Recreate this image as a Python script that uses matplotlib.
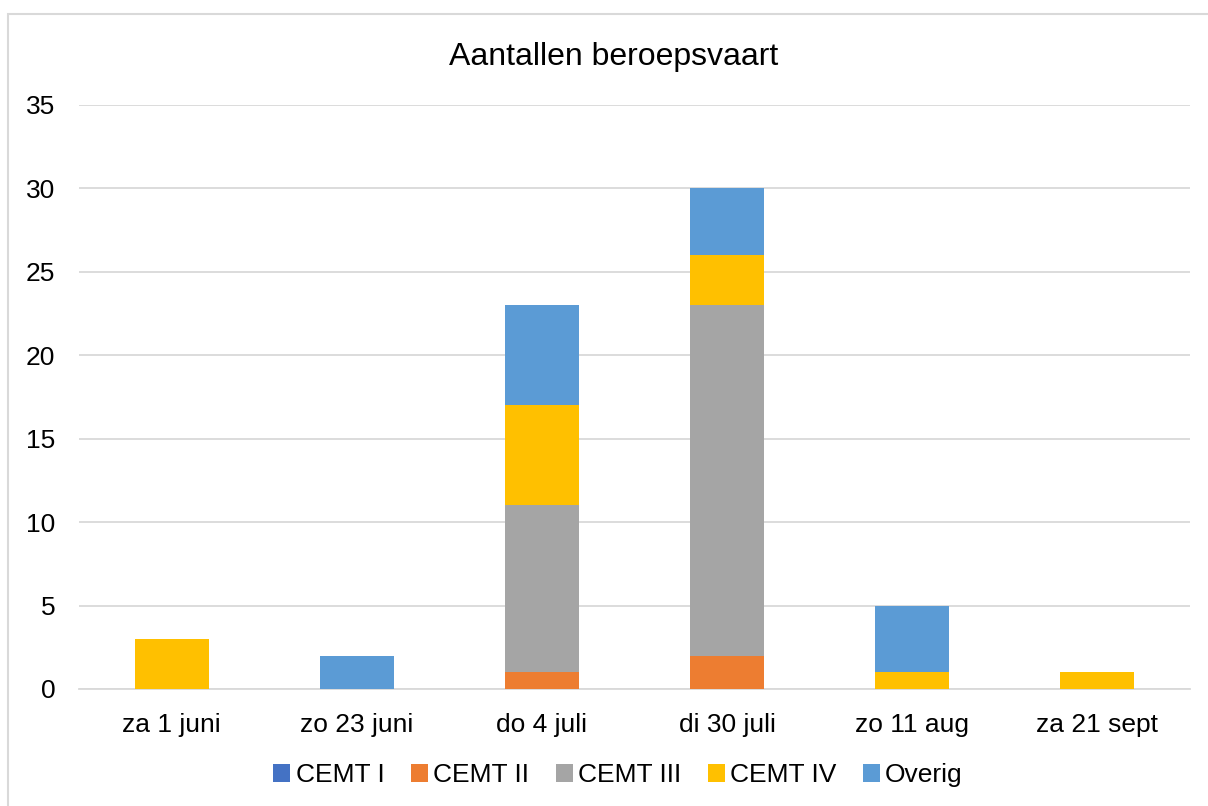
import matplotlib
matplotlib.use('Agg')
import matplotlib.pyplot as plt
from matplotlib.patches import Rectangle
import numpy as np

plt.rcParams['font.family'] = ['Liberation Sans', 'DejaVu Sans']

dates = ['za 1 juni', 'zo 23 juni', 'do 4 juli', 'di 30 juli', 'zo 11 aug', 'za 21 sept']
cemt1 = [0, 0, 0, 0, 0, 0]
cemt2 = [0, 0, 1, 2, 0, 0]
cemt3 = [0, 0, 10, 21, 0, 0]
cemt4 = [3, 0, 6, 3, 1, 1]
overig = [0, 2, 6, 4, 4, 0]

series = [('CEMT I', cemt1, '#4472C4'),
          ('CEMT II', cemt2, '#ED7D31'),
          ('CEMT III', cemt3, '#A5A5A5'),
          ('CEMT IV', cemt4, '#FFC000'),
          ('Overig', overig, '#5B9BD5')]

fig = plt.figure(figsize=(12.08, 8.06), dpi=100)
ax = fig.add_axes([79/1208, 1-689/806, (1190-79)/1208, (689-105)/806])

x = np.arange(len(dates))
bottom = np.zeros(len(dates))
for name, vals, col in series:
    vals = np.array(vals, dtype=float)
    ax.bar(x, vals, 0.4, bottom=bottom, color=col, label=name, zorder=3)
    bottom += vals

ax.set_xlim(-0.5, len(dates)-0.5)
ax.set_ylim(0, 35)
ax.set_yticks(range(0, 36, 5))
ax.set_xticks(x)
ax.set_xticklabels(dates)
ax.tick_params(axis='both', length=0, labelsize=19, colors='black')
ax.tick_params(axis='x', pad=17)
ax.tick_params(axis='y', pad=17)
ax.grid(axis='y', color='#d9d9d9', linewidth=1.3, zorder=0)
for s in ['top', 'right', 'left']:
    ax.spines[s].set_visible(False)
ax.spines['bottom'].set_color('#d9d9d9')
ax.spines['bottom'].set_linewidth(1.3)

fig.text(614/1208, 1-57/806, 'Aantallen beroepsvaart', ha='center', va='center', fontsize=23)

fig.legend(loc='center', bbox_to_anchor=(618/1208, 1-775/806), ncol=5, frameon=False,
           fontsize=19, handlelength=0.65, handleheight=0.65, handletextpad=0.2, columnspacing=1.0)

fig.patches.append(Rectangle((8/1208, -0.1), 1.2, 1-14/806+0.1, transform=fig.transFigure,
                             fill=False, edgecolor='#d9d9d9', linewidth=1.5))

fig.savefig('out.png', dpi=100)
